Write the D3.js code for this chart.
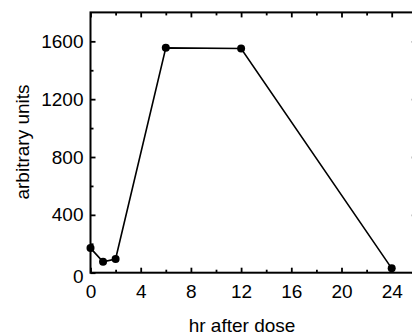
<!DOCTYPE html>
<html>
<head>
<meta charset="utf-8">
<script src="https://cdn.jsdelivr.net/npm/d3@7"></script>
<style>
  body { margin: 0; background: #fff; }
  svg { display: block; font-family: "Liberation Sans", Arial, sans-serif; }
</style>
</head>
<body>
<div id="chart"></div>
<script>
// values
const hours = [0, 1, 2, 6, 12, 24];
const units = [170, 75, 95, 1555, 1550, 30];
const xTicks = [0, 4, 8, 12, 16, 20, 24];
const xMinor = [2, 6, 10, 14, 18, 22];
const yTicks = [0, 400, 800, 1200, 1600];
const yMinor = [200, 600, 1000, 1400];

document.addEventListener('DOMContentLoaded', function() {
    const width = 412;
    const height = 336;
    const margin = { top: 12.4, left: 90.5 };
    const plotW = 326.3;
    const plotH = 260.3;

    const svg = d3.select('#chart')
        .append('svg')
        .attr('width', width)
        .attr('height', height)
        .append('g')
        .attr('transform', `translate(${margin.left},${margin.top})`);

    const x = d3.scaleLinear().domain([0, 26]).range([0, plotW]);
    const y = d3.scaleLinear().domain([0, 1800]).range([plotH, 0]);

    // frame
    svg.append('rect')
        .attr('width', plotW)
        .attr('height', plotH)
        .attr('fill', 'none')
        .attr('stroke', '#000')
        .attr('stroke-width', 2);

    function style(g, size) {
        g.select('.domain').remove();
        g.selectAll('line').attr('stroke', '#000').attr('stroke-width', 1.8);
        g.selectAll('text').attr('font-size', size).attr('fill', '#000');
    }

    // bottom
    svg.append('g')
        .attr('transform', `translate(0,${plotH})`)
        .call(d3.axisBottom(x).tickValues(xTicks).tickSizeInner(-5).tickSizeOuter(0).tickPadding(12).tickFormat(d3.format('d')))
        .call(g => style(g, 19));
    svg.append('g')
        .attr('transform', `translate(0,${plotH})`)
        .call(d3.axisBottom(x).tickValues(xMinor).tickSizeInner(-3).tickSizeOuter(0).tickFormat(''))
        .call(g => style(g, 19));

    // top
    svg.append('g')
        .call(d3.axisTop(x).tickValues(xTicks).tickSizeInner(-5).tickSizeOuter(0).tickFormat(''))
        .call(g => style(g, 19));
    svg.append('g')
        .call(d3.axisTop(x).tickValues(xMinor).tickSizeInner(-3).tickSizeOuter(0).tickFormat(''))
        .call(g => style(g, 19));

    // left
    svg.append('g')
        .call(d3.axisLeft(y).tickValues(yTicks).tickSizeInner(-5).tickSizeOuter(0).tickPadding(7).tickFormat(d3.format('d')))
        .call(g => style(g, 19))
        .call(g => g.selectAll('.tick').filter(d => d === 0).select('text').attr('dy', '0.5em'));
    svg.append('g')
        .call(d3.axisLeft(y).tickValues(yMinor).tickSizeInner(-3).tickSizeOuter(0).tickFormat(''))
        .call(g => style(g, 19));

    // right
    svg.append('g')
        .attr('transform', `translate(${plotW},0)`)
        .call(d3.axisRight(y).tickValues(yTicks).tickSizeInner(-5).tickSizeOuter(0).tickFormat(''))
        .call(g => style(g, 19));

    const data = hours.map((h, i) => ({ h: h, v: units[i] }));

    const line = d3.line()
        .x(d => x(d.h))
        .y(d => y(d.v));

    svg.append('path')
        .datum(data)
        .attr('fill', 'none')
        .attr('stroke', '#000')
        .attr('stroke-width', 1.6)
        .attr('d', line);

    svg.selectAll('.dot')
        .data(data)
        .enter().append('circle')
        .attr('class', 'dot')
        .attr('cx', d => x(d.h))
        .attr('cy', d => y(d.v))
        .attr('r', 4)
        .attr('fill', '#000');

    // axis titles
    svg.append('text')
        .attr('x', 242 - margin.left)
        .attr('y', 332 - margin.top)
        .attr('text-anchor', 'middle')
        .attr('font-size', 19)
        .text('hr after dose');

    svg.append('text')
        .attr('transform', `translate(${29 - margin.left},${142 - margin.top}) rotate(-90)`)
        .attr('text-anchor', 'middle')
        .attr('font-size', 19)
        .text('arbitrary units');
});
</script>
</body>
</html>
